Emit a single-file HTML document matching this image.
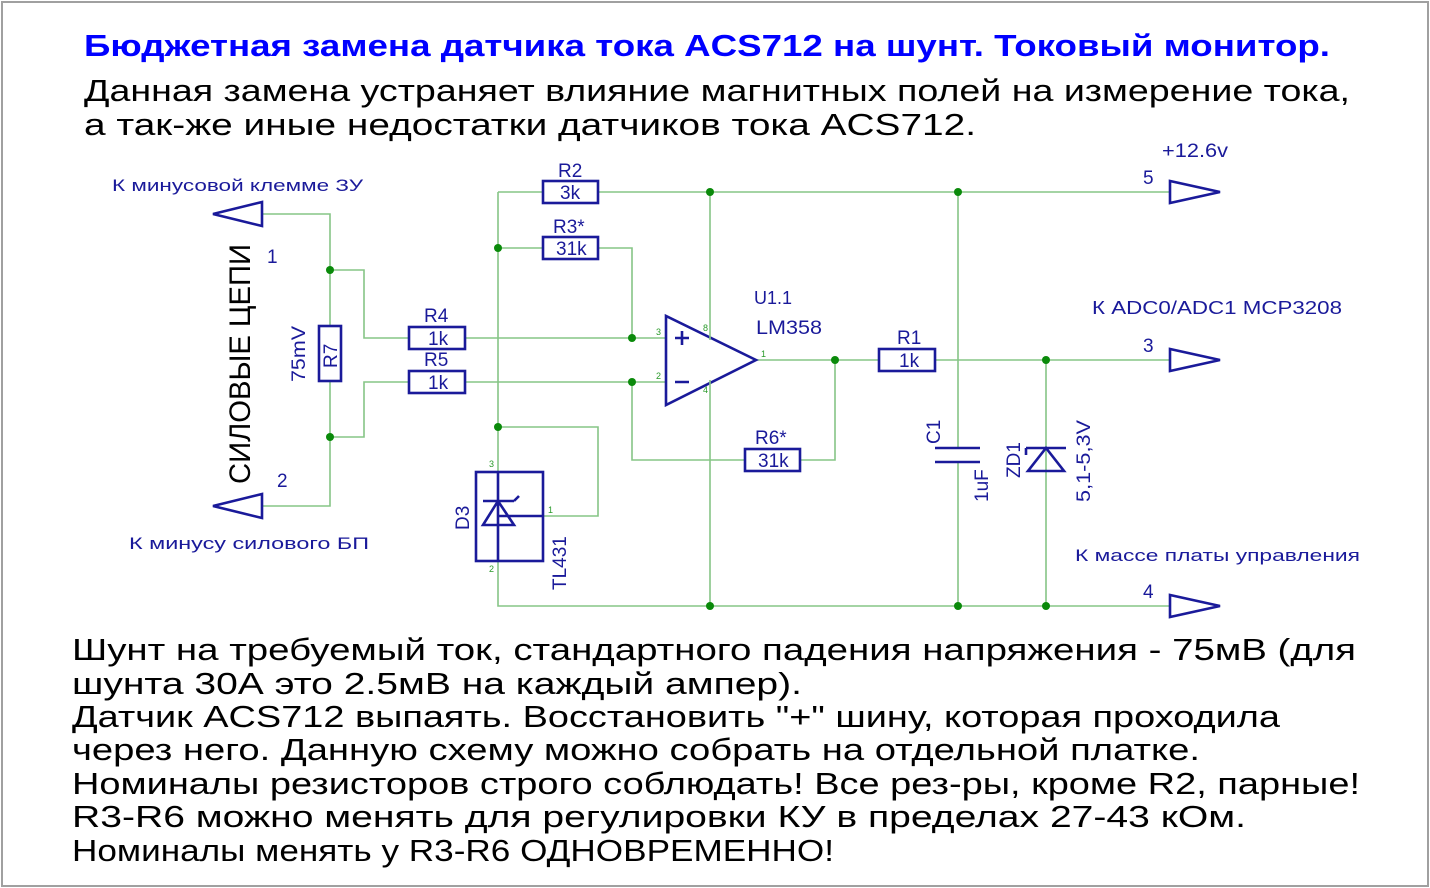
<!DOCTYPE html>
<html><head><meta charset="utf-8"><style>
html,body{margin:0;padding:0;background:#fff;}
svg{display:block;}
text{font-family:"Liberation Sans","DejaVu Sans",sans-serif;}
.w{stroke:#86c586;stroke-width:1.6;fill:none;}
.c{stroke:#1a1a9a;stroke-width:2.6;fill:none;}
.d{fill:#0a8a0a;}
.lb{fill:#1a1a9a;font-size:19px;}
.pn{fill:#2a9a2a;font-size:9px;}
.bt{fill:#000;font-size:31px;}
</style></head><body>
<svg width="1430" height="888" viewBox="0 0 1430 888" xmlns="http://www.w3.org/2000/svg">
<rect x="2" y="2" width="1426" height="884" fill="#fff" stroke="#a0a0a0" stroke-width="2"/>
<text x="84" y="56" fill="#0000ff" font-size="31" font-weight="bold" textLength="1246" lengthAdjust="spacingAndGlyphs">Бюджетная  замена  датчика  тока  ACS712  на  шунт.  Токовый  монитор.</text>
<text x="84" y="101" class="bt" textLength="1266" lengthAdjust="spacingAndGlyphs">Данная  замена  устраняет  влияние  магнитных  полей  на  измерение  тока,</text>
<text x="84" y="135" class="bt" textLength="892" lengthAdjust="spacingAndGlyphs">а  так-же  иные  недостатки  датчиков  тока  ACS712.</text>

<path class="w" d="M498 192H543 M598 192H1170 M498 192V606H1170 M498 248H543 M598 248H632V338 M710 192V330 M710 390V606 M958 192V448 M958 462V606
M263 214H330V326 M330 381V506H263 M330 270H364V338H409 M465 338H666 M330 437H364V382H409 M465 382H666 M632 382V460H745 M800 460H835V360
M756 360H879 M935 360H1170 M1046 360V606 M498 427H598V516H543"/>
<g class="d"><circle cx="710" cy="192" r="4"/><circle cx="958" cy="192" r="4"/><circle cx="498" cy="248" r="4"/><circle cx="330" cy="270" r="4"/><circle cx="330" cy="437" r="4"/><circle cx="632" cy="338" r="4"/><circle cx="632" cy="382" r="4"/><circle cx="835" cy="360" r="4"/><circle cx="1046" cy="360" r="4"/><circle cx="498" cy="427" r="4"/><circle cx="710" cy="606" r="4"/><circle cx="958" cy="606" r="4"/><circle cx="1046" cy="606" r="4"/></g>

<g class="c" fill="#fff">
<rect x="543" y="181" width="55" height="22" fill="#fff"/>
<rect x="543" y="237" width="55" height="22" fill="#fff"/>
<rect x="409" y="327" width="56" height="22" fill="#fff"/>
<rect x="409" y="371" width="56" height="22" fill="#fff"/>
<rect x="745" y="449" width="55" height="22" fill="#fff"/>
<rect x="879" y="349" width="56" height="22" fill="#fff"/>
<rect x="319" y="326" width="22" height="55" fill="#fff"/>
</g>
<g class="lb">
<text x="558" y="177">R2</text><text x="560" y="199">3k</text>
<text x="553" y="233">R3*</text><text x="556" y="255">31k</text>
<text x="424" y="322">R4</text><text x="428" y="345">1k</text>
<text x="424" y="366">R5</text><text x="428" y="389">1k</text>
<text x="755" y="444">R6*</text><text x="758" y="467">31k</text>
<text x="897" y="344">R1</text><text x="899" y="367">1k</text>
<text transform="translate(337,368) rotate(-90)">R7</text>
<text transform="translate(305,382) rotate(-90)" textLength="56" lengthAdjust="spacingAndGlyphs">75mV</text>
<text x="754" y="304" font-size="18">U1.1</text>
<text x="756" y="334" font-size="19" textLength="66" lengthAdjust="spacingAndGlyphs">LM358</text>
</g>

<path class="c" d="M666 316V405L756 360Z" fill="#fff"/>
<path class="c" d="M675 338H689M682 331V345M675 382H689" stroke-width="2.2"/>
<g class="pn"><text x="656" y="335">3</text><text x="656" y="379">2</text><text x="761" y="357">1</text><text x="703" y="331">8</text><text x="703" y="393">4</text></g>
<path class="w" d="M710 330V340 M710 380V390"/>

<rect class="c" x="476" y="472" width="67" height="89" fill="#fff"/>
<path class="c" d="M498 472V561 M483 525H514L498 501Z M483 501H514 M514 501L519 496 M498 516H543" stroke-width="2.2"/>
<text class="lb" transform="translate(469,530) rotate(-90)" font-size="19">D3</text>
<text class="lb" transform="translate(566,590) rotate(-90)" font-size="20">TL431</text>
<g class="pn"><text x="489" y="467">3</text><text x="489" y="572">2</text><text x="548" y="513">1</text></g>

<path class="c" d="M935 448H980 M935 462H980"/>
<text class="lb" transform="translate(940,444) rotate(-90)">C1</text>
<text class="lb" transform="translate(988,502) rotate(-90)">1uF</text>
<path class="c" d="M1026 448H1066 M1026 448V455 M1028 471H1064L1046 448Z" fill="#fff"/>
<text class="lb" transform="translate(1020,478) rotate(-90)">ZD1</text>
<text class="lb" transform="translate(1090,502) rotate(-90)" textLength="82" lengthAdjust="spacingAndGlyphs">5,1-5,3V</text>

<g class="c" fill="#fff">
<path d="M262 202V226L213 214Z" fill="#fff"/>
<path d="M262 494V518L213 506Z" fill="#fff"/>
<path d="M1170 181V203L1220 192Z" fill="#fff"/>
<path d="M1170 349V371L1220 360Z" fill="#fff"/>
<path d="M1170 595V617L1220 606Z" fill="#fff"/>
</g>
<g class="lb">
<text x="112" y="191" font-size="17" textLength="251" lengthAdjust="spacingAndGlyphs">К  минусовой  клемме  ЗУ</text>
<text x="129" y="549" font-size="17" textLength="240" lengthAdjust="spacingAndGlyphs">К  минусу  силового  БП</text>
<text x="267" y="263">1</text><text x="277" y="487">2</text>
<text x="1162" y="157" textLength="66" lengthAdjust="spacingAndGlyphs">+12.6v</text>
<text x="1143" y="184">5</text><text x="1143" y="352">3</text><text x="1143" y="598">4</text>
<text x="1092" y="314" font-size="18" textLength="250" lengthAdjust="spacingAndGlyphs">К  ADC0/ADC1  MCP3208</text>
<text x="1075" y="561" font-size="17" textLength="285" lengthAdjust="spacingAndGlyphs">К  массе  платы  управления</text>
</g>
<text transform="translate(250,484) rotate(-90)" fill="#000" font-size="30" textLength="240" lengthAdjust="spacingAndGlyphs">СИЛОВЫЕ  ЦЕПИ</text>

<text x="72" y="660" class="bt" textLength="1284" lengthAdjust="spacingAndGlyphs">Шунт  на  требуемый  ток,  стандартного  падения  напряжения  -  75мВ  (для</text>
<text x="72" y="694" class="bt" textLength="730" lengthAdjust="spacingAndGlyphs">шунта  30А  это  2.5мВ  на  каждый  ампер).</text>
<text x="72" y="727" class="bt" textLength="1208" lengthAdjust="spacingAndGlyphs">Датчик  ACS712  выпаять.  Восстановить  "+"  шину,  которая  проходила</text>
<text x="72" y="760" class="bt" textLength="1128" lengthAdjust="spacingAndGlyphs">через  него. Данную  схему  можно  собрать  на  отдельной  платке.</text>
<text x="72" y="794" class="bt" textLength="1288" lengthAdjust="spacingAndGlyphs">Номиналы  резисторов  строго  соблюдать!  Все  рез-ры,  кроме  R2,  парные!</text>
<text x="72" y="827" class="bt" textLength="1174" lengthAdjust="spacingAndGlyphs">R3-R6  можно  менять  для  регулировки  КУ  в  пределах  27-43  кОм.</text>
<text x="72" y="861" class="bt" textLength="762" lengthAdjust="spacingAndGlyphs">Номиналы  менять  у  R3-R6  ОДНОВРЕМЕННО!</text>
</svg>
</body></html>
